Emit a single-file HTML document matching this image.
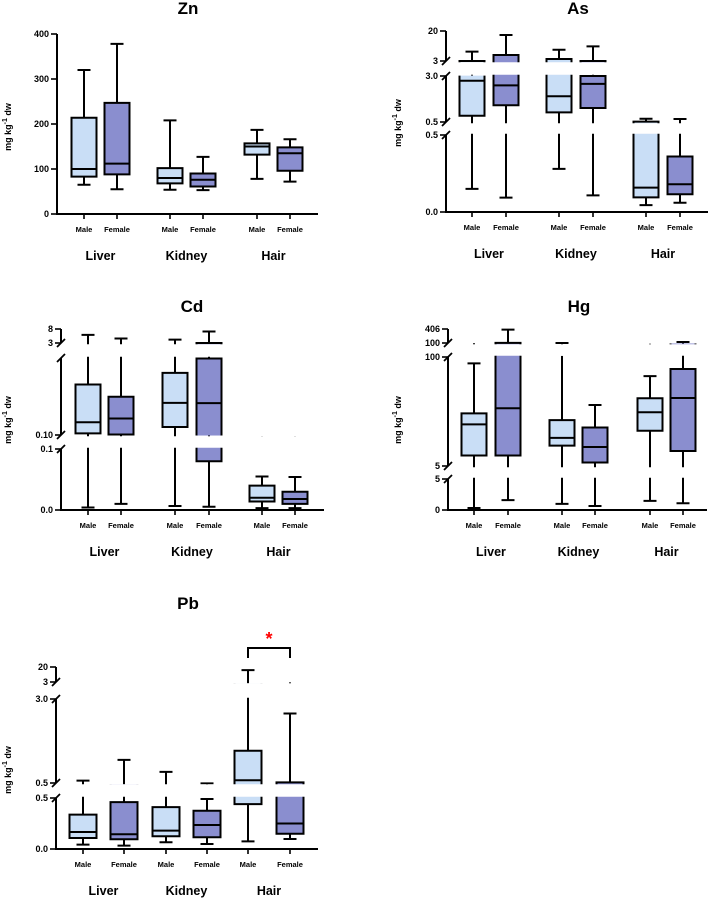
<!DOCTYPE html>
<html><head><meta charset="utf-8"><style>
html,body{margin:0;padding:0;background:#fff;width:711px;height:898px;overflow:hidden}
svg{display:block;font-family:"Liberation Sans",sans-serif}
</style></head><body>
<svg id="chart" width="711" height="898" viewBox="0 0 711 898" xmlns="http://www.w3.org/2000/svg"></svg>
<script>
// ---- data ----
const organs = ['Liver','Kidney','Hair'];
const sexes = ['Male','Female'];
// each box: [min, q1, median, q3, max]; order: Liver M, Liver F, Kidney M, Kidney F, Hair M, Hair F
const znStats = [[65,83,100,214,320],[55,88,112,247,378],[54,68,80,102,208],[53,61,76,90,127],[78,132,150,157,187],[72,96,135,148,166]];
const asStats = [[0.15,0.84,2.74,3.02,8.3],[0.093,1.41,2.49,6.4,17.7],[0.28,1.02,1.9,4.1,9.4],[0.108,1.26,2.57,3.0,11.3],[0.045,0.095,0.158,0.52,0.68],[0.06,0.115,0.18,0.36,0.66]];
const cdStats = [[0.004,0.16,0.58,2.0,5.9],[0.010,0.12,0.72,1.54,4.6],[0.0066,0.40,1.31,2.44,4.2],[0.0054,0.080,1.30,2.98,7.1],[0.003,0.014,0.020,0.040,0.055],[0.003,0.010,0.018,0.030,0.054]];
const hgStats = [[0.33,14.1,41.3,50.9,94.4],[1.6,14.1,55.3,102,393],[0.98,22.8,29.5,45.0,101],[0.65,8.0,21.6,38.6,58.2],[1.47,35.7,51.8,64.0,83.3],[1.09,18.1,64.3,89.5,122]];
const pbStats = [[0.043,0.108,0.167,0.337,0.57],[0.033,0.095,0.144,0.46,1.19],[0.066,0.125,0.18,0.41,0.83],[0.049,0.115,0.235,0.375,0.49],[0.075,0.44,0.58,1.46,16.5],[0.098,0.15,0.25,0.52,2.57]];
const znTickVals = [0,100,200,300,400];
const znTickSegs = [0,0,0,0,0];
const znTickLabels = ['0','100','200','300','400'];
const asTickVals = [0,0.5,0.5,3,3,20];
const asTickSegs = [0,0,1,1,2,2];
const asTickLabels = ['0.0','0.5','0.5','3.0','3','20'];
const cdTickVals = [0,0.1,0.1,3,8];
const cdTickSegs = [0,0,1,2,2];
const cdTickLabels = ['0.0','0.1','0.10','3','8'];
const hgTickVals = [0,5,5,100,100,406];
const hgTickSegs = [0,0,1,1,2,2];
const hgTickLabels = ['0','5','5','100','100','406'];
const pbTickVals = [0,0.5,0.5,3,3,20];
const pbTickSegs = [0,0,1,1,2,2];
const pbTickLabels = ['0.0','0.5','0.5','3.0','3','20'];

// ---- layout ----
const NS='http://www.w3.org/2000/svg';
const svg=document.getElementById('chart');
const MALE='#c9def6', FEMALE='#8a8ecf';
let clipId=0;
function el(tag,attrs,parent){const e=document.createElementNS(NS,tag);for(const k in attrs)e.setAttribute(k,attrs[k]);(parent||svg).appendChild(e);return e;}

function drawPanel(key,title,cfg,stats,tv,ts,tl){
  const g=el('g',{});
  
  
  const t=el('text',{x:cfg.titleX,y:cfg.titleY,'text-anchor':'middle','font-size':17,'font-weight':'bold',fill:'#000'},g);
  t.textContent=title;
  
  
  const yt=el('text',{x:0,y:0,'text-anchor':'middle','font-size':9,'font-weight':'bold',transform:`translate(${cfg.ylabX},${cfg.ylabY}) rotate(-90)`},g);
  yt.innerHTML='mg kg<tspan dy="-4" font-size="7">-1</tspan><tspan dy="4"> dw</tspan>';
  
  
  const ax=cfg.axisX;
  cfg.segs.forEach((s,si)=>{
    const sc=v=>s.p0+(v-s.v0)/(s.v1-s.v0)*(s.p1-s.p0);
    const inSeg=v=>v>=s.v0-(s.v1-s.v0)*0.005 && v<=s.v1+(s.v1-s.v0)*0.005;
    const id='clip'+(clipId++);
    const cp=el('clipPath',{id:id},g);
    el('rect',{x:ax+1,y:s.p1-1.2,width:300,height:s.p0-s.p1+2.4},cp);
    const sg=el('g',{'clip-path':`url(#${id})`},g);
    stats.forEach((st,j)=>{
      const cx=cfg.xs[j], bw=cfg.boxW, cw=13;
      const bg=el('g',{},sg);
      
      
      const [mn,q1,md,q3,mx]=st.map(sc);
      const H=(v,y,w)=>{ if(inSeg(v)) el('line',{x1:cx-w/2,x2:cx+w/2,y1:y,y2:y,stroke:'#000','stroke-width':2},bg); };
      el('line',{x1:cx,x2:cx,y1:mn,y2:q1,stroke:'#000','stroke-width':2},bg);
      el('line',{x1:cx,x2:cx,y1:q3,y2:mx,stroke:'#000','stroke-width':2},bg);
      H(st[0],mn,cw); H(st[4],mx,cw);
      el('rect',{x:cx-bw/2,y:Math.min(q1,q3),width:bw,height:Math.abs(q1-q3),fill:j%2?FEMALE:MALE,stroke:'none'},bg);
      el('line',{x1:cx-bw/2,x2:cx-bw/2,y1:q1,y2:q3,stroke:'#000','stroke-width':2},bg);
      el('line',{x1:cx+bw/2,x2:cx+bw/2,y1:q1,y2:q3,stroke:'#000','stroke-width':2},bg);
      H(st[1],q1,bw+2); H(st[3],q3,bw+2); H(st[2],md,bw);
    });
    el('line',{x1:ax,x2:ax,y1:s.p1,y2:s.p0,stroke:'#000','stroke-width':2},g);
    if(si>0) el('line',{x1:ax-4,y1:s.p0+4,x2:ax+4,y2:s.p0-4,stroke:'#000','stroke-width':1.8},g);
    if(si<cfg.segs.length-1) el('line',{x1:ax-4,y1:s.p1+4,x2:ax+4,y2:s.p1-4,stroke:'#000','stroke-width':1.8},g);
  });
  tv.forEach((v,i)=>{
    const s=cfg.segs[ts[i]];
    const y=s.p0+(v-s.v0)/(s.v1-s.v0)*(s.p1-s.p0);
    el('line',{x1:ax-6,x2:ax,y1:y,y2:y,stroke:'#000','stroke-width':1.6},g);
    const lab=el('text',{x:ax-8,y:y+3,'text-anchor':'end','font-size':9,'font-weight':'bold'},g);
    lab.textContent=tl[i];
    
    
  });
  const base=cfg.segs[0].p0;
  el('line',{x1:ax-1,x2:cfg.xEnd,y1:base,y2:base,stroke:'#000','stroke-width':2},g);
  cfg.xs.forEach((x,j)=>{
    el('line',{x1:x,x2:x,y1:base,y2:base+5,stroke:'#000','stroke-width':1.6},g);
    const lab=el('text',{x:x,y:cfg.tickY,'text-anchor':'middle','font-size':7.5,'font-weight':'bold'},g);
    lab.textContent=sexes[j%2];
    
    
  });
  organs.forEach((o,k)=>{
    const lab=el('text',{x:(cfg.xs[2*k]+cfg.xs[2*k+1])/2,y:cfg.groupY,'text-anchor':'middle','font-size':12.5,'font-weight':'bold'},g);
    lab.textContent=o;
    
    
  });
  return g;
}

drawPanel('zn','Zn',{titleX:188,titleY:14,ylabX:11,ylabY:127,axisX:57,xEnd:318,xs:[84,117,170,203,257,290],boxW:25,tickY:232,groupY:260,
  segs:[{v0:0,v1:400,p0:214,p1:34}]},znStats,znTickVals,znTickSegs,znTickLabels);
drawPanel('as','As',{titleX:578,titleY:14,ylabX:401,ylabY:123,axisX:446,xEnd:708,xs:[472,506,559,593,646,680],boxW:25,tickY:230,groupY:258,
  segs:[{v0:0,v1:0.5,p0:212,p1:135},{v0:0.5,v1:3,p0:122,p1:76},{v0:3,v1:20,p0:61,p1:31}]},asStats,asTickVals,asTickSegs,asTickLabels);
drawPanel('cd','Cd',{titleX:192,titleY:312,ylabX:11,ylabY:420,axisX:61,xEnd:324,xs:[88,121,175,209,262,295],boxW:25,tickY:528,groupY:556,
  segs:[{v0:0,v1:0.1,p0:510,p1:449},{v0:0.1,v1:3,p0:435,p1:358},{v0:3,v1:8,p0:343,p1:329}]},cdStats,cdTickVals,cdTickSegs,cdTickLabels);
drawPanel('hg','Hg',{titleX:579,titleY:312,ylabX:401,ylabY:420,axisX:448,xEnd:707,xs:[474,508,562,595,650,683],boxW:25,tickY:528,groupY:556,
  segs:[{v0:0,v1:5,p0:510,p1:479},{v0:5,v1:100,p0:466,p1:357},{v0:100,v1:406,p0:343,p1:329}]},hgStats,hgTickVals,hgTickSegs,hgTickLabels);
drawPanel('pb','Pb',{titleX:188,titleY:609,ylabX:11,ylabY:770,axisX:56,xEnd:318,xs:[83,124,166,207,248,290],boxW:27,tickY:867,groupY:895,
  segs:[{v0:0,v1:0.5,p0:849,p1:798},{v0:0.5,v1:3,p0:783,p1:699},{v0:3,v1:20,p0:682,p1:667}]},pbStats,pbTickVals,pbTickSegs,pbTickLabels);

const br=el('path',{d:'M248 658 V648 H290 V658',fill:'none',stroke:'#000','stroke-width':2});


const star=el('text',{x:269,y:645,'text-anchor':'middle','font-size':18,'font-weight':'bold',fill:'#ff0000'});
star.textContent='*';


</script>
</body></html>
